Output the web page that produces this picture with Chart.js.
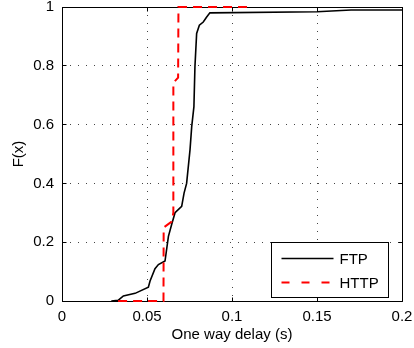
<!DOCTYPE html>
<html>
<head>
<meta charset="utf-8">
<script src="https://cdn.jsdelivr.net/npm/chart.js@4/dist/chart.umd.min.js"></script>
<style>
  html, body { margin: 0; padding: 0; background: #fff; }
</style>
</head>
<body>
<canvas id="c" width="414" height="348"></canvas>
<script>
// CDF of one way delay
var ftpDelay = [0.029, 0.033, 0.0361, 0.043, 0.0508, 0.0518, 0.0547, 0.0567, 0.0606, 0.0626, 0.0645, 0.0665,
                0.0704, 0.0718, 0.0733, 0.0753, 0.0763, 0.0776, 0.0782, 0.0792, 0.0808, 0.0831, 0.0851, 0.087,
                0.15, 0.17, 0.2];
var ftpCdf   = [0, 0.002, 0.017, 0.026, 0.047, 0.068, 0.11, 0.124, 0.136, 0.22, 0.26, 0.30,
                0.322, 0.367, 0.40, 0.514, 0.593, 0.661, 0.797, 0.91, 0.938, 0.949, 0.966, 0.98,
                0.984, 0.99, 0.99];

var httpDelay = [0.033, 0.0597, 0.0598, 0.0645, 0.0655, 0.0655, 0.0683, 0.0685, 0.11];
var httpCdf   = [0, 0, 0.25, 0.27, 0.30, 0.742, 0.76, 1, 1];

var xTicks = [0, 0.05, 0.1, 0.15, 0.2];
var yTicks = [0, 0.2, 0.4, 0.6, 0.8, 1];

var seriesNames = ['FTP', 'HTTP'];

function pts(xs, ys) {
  return xs.map(function(x, i) { return {x: x, y: ys[i]}; });
}

var FONT = '"Liberation Sans", Arial, Helvetica, sans-serif';
Chart.defaults.font.family = FONT;
Chart.defaults.font.size = 15;
Chart.defaults.color = '#000';

function align(p) { return Math.round(p - 0.5) + 0.5; }

// matlab style box with inward ticks, drawn under the lines
var frame = {
  id: 'frame',
  beforeDatasetsDraw: function(chart) {
    var a = chart.chartArea, ctx = chart.ctx;
    var xs = chart.scales.x, ys = chart.scales.y;
    var L = align(a.left), R = align(a.right), T = align(a.top), B = align(a.bottom);
    ctx.save();
    ctx.strokeStyle = '#000';
    ctx.lineWidth = 1;
    ctx.beginPath();
    ctx.rect(L, T, R - L, B - T);
    xTicks.forEach(function(v) {
      var p = align(xs.getPixelForValue(v));
      ctx.moveTo(p, B); ctx.lineTo(p, B - 4);
      ctx.moveTo(p, T); ctx.lineTo(p, T + 4);
    });
    yTicks.forEach(function(v) {
      var p = align(ys.getPixelForValue(v));
      ctx.moveTo(L, p); ctx.lineTo(L + 4, p);
      ctx.moveTo(R, p); ctx.lineTo(R - 4, p);
    });
    ctx.stroke();
    ctx.restore();
  }
};

// legend box in the lower right corner of the axes
var boxLegend = {
  id: 'boxLegend',
  afterDraw: function(chart) {
    var a = chart.chartArea, ctx = chart.ctx;
    var w = 117, h = 55;
    var bx = align(a.right - 14 - w), by = align(a.bottom - 4 - h);
    ctx.save();
    ctx.fillStyle = '#fff';
    ctx.fillRect(bx, by, w, h);
    ctx.strokeStyle = '#000';
    ctx.lineWidth = 1;
    ctx.strokeRect(bx, by, w, h);
    ctx.font = '15px ' + FONT;
    ctx.textBaseline = 'middle';
    chart.data.datasets.forEach(function(ds, i) {
      var y = by + 16 + i * 24;
      ctx.beginPath();
      ctx.strokeStyle = ds.borderColor;
      ctx.lineWidth = ds.borderWidth;
      ctx.setLineDash(ds.borderDash ? [8, 12] : []);
      ctx.moveTo(bx + 10, y);
      ctx.lineTo(bx + 62, y);
      ctx.stroke();
      ctx.setLineDash([]);
      ctx.fillStyle = '#000';
      ctx.fillText(ds.label, bx + 68, y + 1);
    });
    ctx.restore();
  }
};

new Chart(document.getElementById('c'), {
  type: 'line',
  data: {
    datasets: [{
      label: seriesNames[0],
      data: pts(ftpDelay, ftpCdf),
      borderColor: '#000',
      borderWidth: 1.6,
      pointRadius: 0,
      tension: 0,
      order: 1
    }, {
      label: seriesNames[1],
      data: pts(httpDelay, httpCdf),
      borderColor: '#ff0000',
      borderWidth: 2,
      borderDash: [9, 6],
      pointRadius: 0,
      tension: 0,
      clip: 3,
      order: 0
    }]
  },
  options: {
    responsive: false,
    animation: false,
    layout: { padding: { top: 7, right: 12, left: 0, bottom: 0 } },
    plugins: {
      legend: { display: false },
      tooltip: { enabled: false }
    },
    scales: {
      x: {
        type: 'linear',
        min: 0,
        max: 0.2,
        afterBuildTicks: function(s) { s.ticks = xTicks.map(function(v) { return {value: v}; }); },
        afterFit: function(s) { s.height = 47; s.paddingLeft = 0; s.paddingRight = 0; },
        ticks: { padding: 7, maxRotation: 0, autoSkip: false, callback: function(v) { return String(v); } },
        grid: { color: '#444', lineWidth: 1, drawTicks: false },
        border: { display: false, dash: [1, 7] },
        title: { display: true, text: 'One way delay (s)', padding: { top: 0, bottom: 4 } }
      },
      y: {
        type: 'linear',
        min: 0,
        max: 1,
        afterBuildTicks: function(s) { s.ticks = yTicks.map(function(v) { return {value: v}; }); },
        afterFit: function(s) { s.width = 62; s.paddingTop = 0; s.paddingBottom = 0; },
        ticks: { padding: 8, autoSkip: false, callback: function(v) { return String(v); } },
        grid: { color: '#444', lineWidth: 1, drawTicks: false },
        border: { display: false, dash: [1, 7] },
        title: { display: true, text: 'F(x)', padding: { top: 10, bottom: 0 } }
      }
    }
  },
  plugins: [frame, boxLegend]
});
</script>
</body>
</html>
